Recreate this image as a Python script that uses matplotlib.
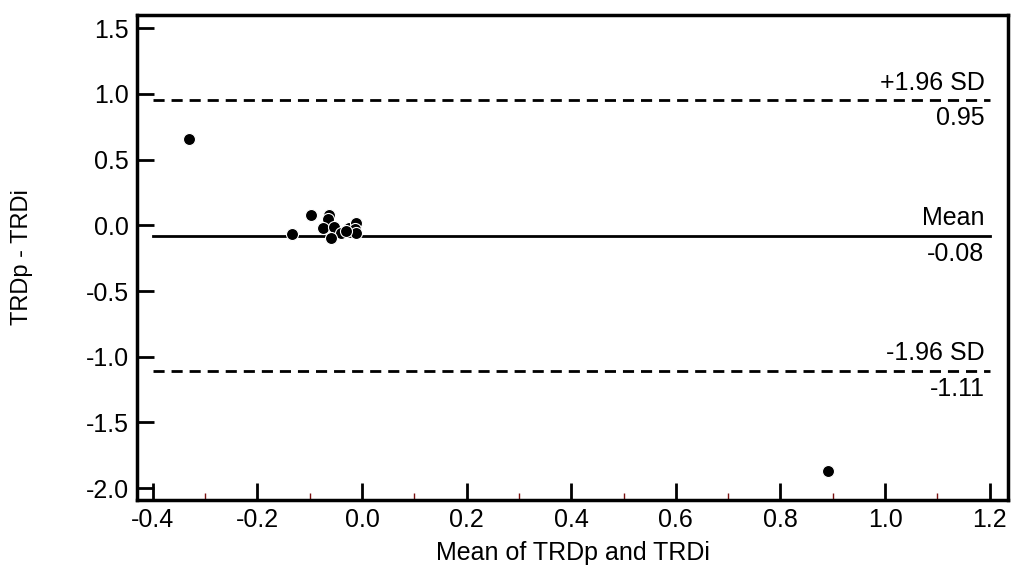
import matplotlib
matplotlib.use('Agg')
import matplotlib.pyplot as plt
from matplotlib.ticker import MultipleLocator, FormatStrFormatter

plt.rcParams['font.family'] = ['Liberation Sans', 'DejaVu Sans']

# Bland-Altman data: mean of the two methods vs. their difference
mean_vals = [-0.33, 0.89, -0.097, -0.063, -0.064, -0.074, -0.053, -0.025,
             -0.011, -0.013, -0.040, -0.059, -0.133, -0.012, -0.031]
diff_vals = [0.66, -1.87, 0.08, 0.08, 0.05, -0.02, -0.01, -0.02,
             0.02, -0.03, -0.06, -0.10, -0.07, -0.06, -0.04]

mean_diff = -0.08
upper_loa = 0.95
lower_loa = -1.11
line_labels = ["+1.96 SD", "Mean", "-1.96 SD"]
line_values = [upper_loa, mean_diff, lower_loa]


def main():
    fig = plt.figure(figsize=(10.21, 5.68), dpi=100)
    ax = fig.add_axes([137 / 1021, 1 - 500 / 568, (1008 - 137) / 1021, (500 - 15) / 568])

    ax.scatter(mean_vals, diff_vals, s=75, color="black", edgecolor="white",
               linewidth=0.8, zorder=3)

    x0, x1 = -0.4, 1.2
    for val, style in zip(line_values, ["--", "-", "--"]):
        ax.plot([x0, x1], [val, val], color="black", linestyle=style,
                linewidth=2, dashes=(4, 2.5) if style == "--" else (None, None))

    for lab, val in zip(line_labels, line_values):
        ax.text(1.19, val + 0.045, lab, ha="right", va="bottom", fontsize=18)
        ax.text(1.19, val - 0.045, f"{val:.2f}", ha="right", va="top", fontsize=18)

    ax.set_xlim(-0.43, 1.235)
    ax.set_ylim(-2.09, 1.6)
    ax.xaxis.set_major_locator(MultipleLocator(0.2))
    ax.xaxis.set_minor_locator(MultipleLocator(0.1))
    ax.yaxis.set_major_locator(MultipleLocator(0.5))
    ax.xaxis.set_major_formatter(FormatStrFormatter("%.1f"))
    ax.yaxis.set_major_formatter(FormatStrFormatter("%.1f"))

    ax.tick_params(axis="both", which="major", direction="in", length=12,
                   width=2, labelsize=18, pad=6)
    ax.tick_params(axis="x", which="minor", direction="in", length=5,
                   width=1, color="#7a1010")
    ax.tick_params(top=False, right=False)
    for sp in ax.spines.values():
        sp.set_linewidth(2.5)

    ax.set_xlabel("Mean of TRDp and TRDi", fontsize=18, labelpad=6)
    ax.set_ylabel("TRDp - TRDi", fontsize=17, labelpad=38)

    fig.savefig("out.png", dpi=100)
    plt.close(fig)


if __name__ == "__main__":
    main()
